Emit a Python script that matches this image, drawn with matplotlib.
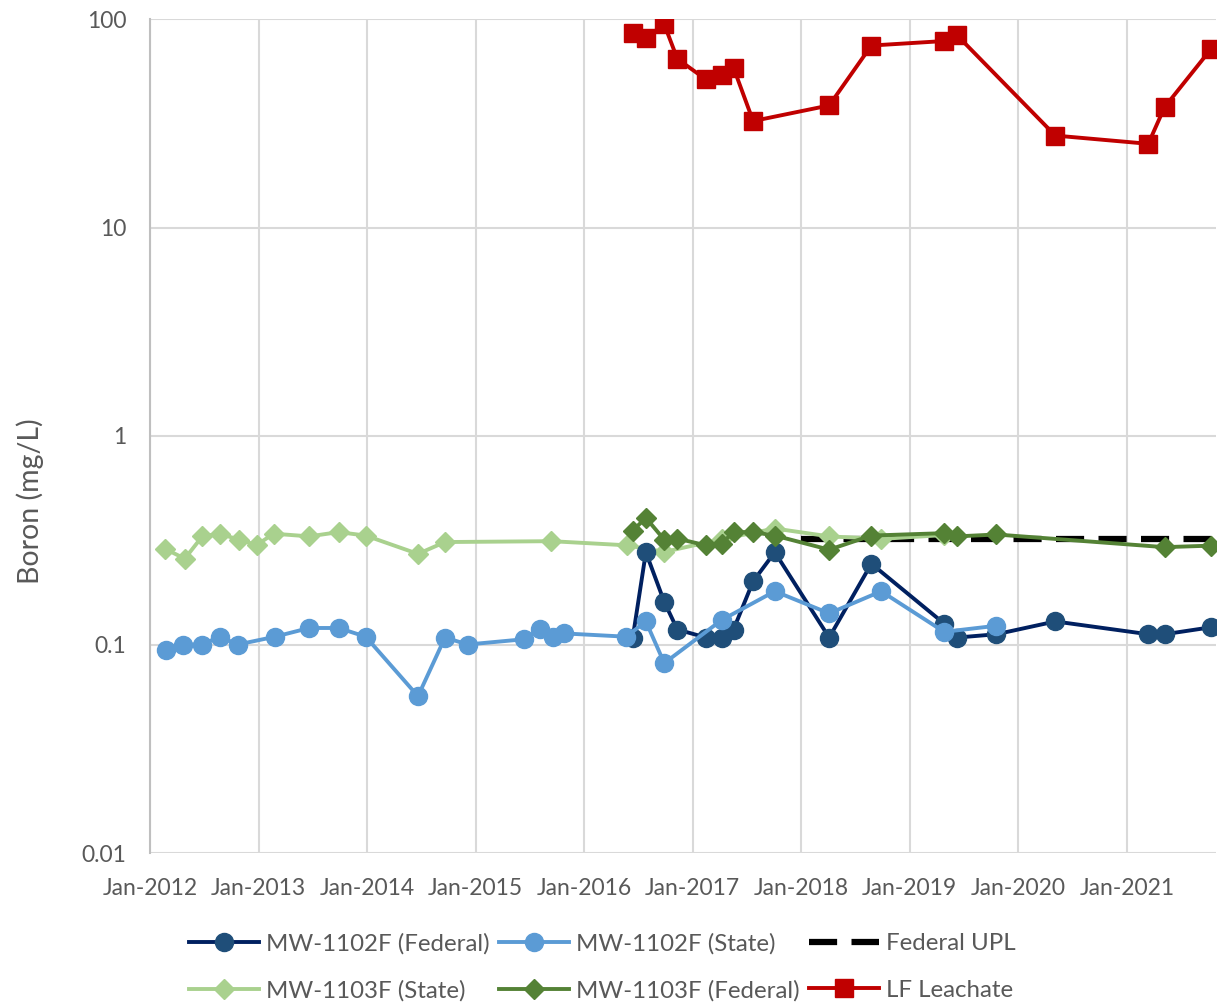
import numpy as np
import pandas as pd
import matplotlib
matplotlib.use("Agg")
import matplotlib.pyplot as plt
import matplotlib.dates as mdates
from matplotlib.ticker import FixedLocator, FuncFormatter, NullLocator

plt.rcParams['font.family'] = ['Lato', 'DejaVu Sans']

# MW-1102F (Federal)
fed1102_dates = ['2016-06-13', '2016-07-27', '2016-09-27', '2016-11-10', '2017-02-14',
                 '2017-04-08', '2017-05-18', '2017-07-23', '2017-10-04', '2018-04-05',
                 '2018-08-25', '2019-04-27', '2019-06-10', '2019-10-20', '2020-05-05',
                 '2021-03-14', '2021-05-08', '2021-10-12']
fed1102_vals = [0.108, 0.277, 0.160, 0.118, 0.108, 0.108, 0.118, 0.201, 0.277, 0.108,
                0.244, 0.126, 0.108, 0.112, 0.129, 0.112, 0.112, 0.121]

# MW-1102F (State)
st1102_dates = ['2012-02-24', '2012-04-20', '2012-06-25', '2012-08-22', '2012-10-23',
                '2013-02-25', '2013-06-20', '2013-09-27', '2013-12-27', '2014-06-21',
                '2014-09-20', '2014-12-05', '2015-06-14', '2015-08-05', '2015-09-17',
                '2015-10-27', '2016-05-22', '2016-07-27', '2016-09-27', '2017-04-08',
                '2017-10-04', '2018-04-05', '2018-09-27', '2019-04-27', '2019-10-20']
st1102_vals = [0.0936, 0.100, 0.100, 0.109, 0.100, 0.109, 0.120, 0.120, 0.109, 0.0565,
               0.108, 0.100, 0.106, 0.119, 0.109, 0.113, 0.109, 0.129, 0.0814, 0.131,
               0.180, 0.141, 0.180, 0.115, 0.123]

# Federal UPL
upl_dates = ['2018-01-01', '2021-10-28']
upl_vals = [0.32, 0.32]

# MW-1103F (State)
st1103_dates = ['2012-02-20', '2012-04-27', '2012-06-25', '2012-08-22', '2012-10-27',
                '2012-12-25', '2013-02-20', '2013-06-20', '2013-09-27', '2013-12-27',
                '2014-06-21', '2014-09-20', '2015-09-13', '2016-05-25', '2016-09-27',
                '2017-04-08', '2017-10-04', '2018-04-05', '2018-09-27', '2019-04-27']
st1103_vals = [0.288, 0.258, 0.330, 0.340, 0.318, 0.300, 0.340, 0.330, 0.346, 0.333,
               0.272, 0.310, 0.313, 0.299, 0.278, 0.320, 0.360, 0.330, 0.321, 0.335]

# MW-1103F (Federal)
fed1103_dates = ['2016-06-13', '2016-07-27', '2016-09-27', '2016-11-10', '2017-02-14',
                 '2017-04-08', '2017-05-18', '2017-07-23', '2017-10-04', '2018-04-05',
                 '2018-08-25', '2019-04-27', '2019-06-10', '2019-10-20', '2021-05-08',
                 '2021-10-12']
fed1103_vals = [0.352, 0.405, 0.318, 0.322, 0.299, 0.305, 0.346, 0.346, 0.333, 0.285,
                0.333, 0.342, 0.330, 0.337, 0.293, 0.298]

# LF Leachate
lf_dates = ['2016-06-13', '2016-07-27', '2016-09-27', '2016-11-10', '2017-02-14',
            '2017-04-08', '2017-05-18', '2017-07-23', '2018-04-05', '2018-08-25',
            '2019-04-27', '2019-06-10', '2020-05-05', '2021-03-14', '2021-05-08',
            '2021-10-12']
lf_vals = [85.5, 81.3, 94.2, 64.4, 51.3, 53.6, 58.4, 32.4, 38.5, 74.6, 78.4, 83.4,
           27.6, 25.2, 37.8, 72.0]

tick_dates = ['%d-01-01' % y for y in range(2012, 2022)]

txt = '#595959'
fig = plt.figure(figsize=(12.24, 10.06), dpi=100)
ax = fig.add_axes([150/1224, 1-853/1006, 1066/1224, 834/1006])

d = pd.to_datetime
h1, = ax.plot(d(fed1102_dates), fed1102_vals, color='#002060', lw=2.8, marker='o',
              ms=13, mfc='#1F4E79', mec='#1F4E79', label='MW-1102F (Federal)', zorder=4)
h2, = ax.plot(d(st1102_dates), st1102_vals, color='#5B9BD5', lw=2.8, marker='o',
              ms=13, mfc='#5B9BD5', mec='#5B9BD5', label='MW-1102F (State)', zorder=5)
h3, = ax.plot(d(upl_dates), upl_vals, color='black', lw=4.5, ls=(0, (4.5, 2.3)),
              label='Federal UPL', zorder=2)
h4, = ax.plot(d(st1103_dates), st1103_vals, color='#A9D18E', lw=2.8, marker='D',
              ms=10, mfc='#A9D18E', mec='#A9D18E', label='MW-1103F (State)', zorder=3)
h5, = ax.plot(d(fed1103_dates), fed1103_vals, color='#548235', lw=2.8, marker='D',
              ms=10, mfc='#548235', mec='#548235', label='MW-1103F (Federal)', zorder=6)
h6, = ax.plot(d(lf_dates), lf_vals, color='#C00000', lw=2.8, marker='s',
              ms=12.5, mfc='#C00000', mec='#C00000', label='LF Leachate', zorder=7)

ax.set_yscale('log')
ax.set_ylim(0.01, 100)
ax.yaxis.set_major_locator(FixedLocator([0.01, 0.1, 1, 10, 100]))
ax.yaxis.set_minor_locator(NullLocator())
ax.yaxis.set_major_formatter(FuncFormatter(lambda v, p: '%g' % v))

ax.set_xlim(d('2012-01-01'), d('2021-10-28'))
ax.set_xticks(d(tick_dates))
ax.xaxis.set_major_formatter(mdates.DateFormatter('%b-%Y'))

ax.grid(True, color='#D9D9D9', lw=1.5)
ax.set_axisbelow(True)
for s in ['top', 'right', 'bottom']:
    ax.spines[s].set_visible(False)
ax.spines['left'].set_color('#BFBFBF')
ax.spines['left'].set_linewidth(1.5)
ax.tick_params(length=0, labelsize=16.5, colors=txt)
ax.tick_params(axis='y', pad=17)
ax.tick_params(axis='x', pad=18)

ax.set_ylabel('Boron (mg/L)', fontsize=20.5, color=txt)
ax.yaxis.set_label_coords(-0.0994, 0.422)

fig.legend(handles=[h1, h4, h2, h5, h3, h6], ncol=3, loc='center',
           bbox_to_anchor=(0.4922, 1-967/1006), frameon=False, fontsize=17.3,
           labelcolor=txt, handlelength=2.9, columnspacing=0.4, handletextpad=0.3,
           labelspacing=1.05)

fig.savefig('out.png', dpi=100)
